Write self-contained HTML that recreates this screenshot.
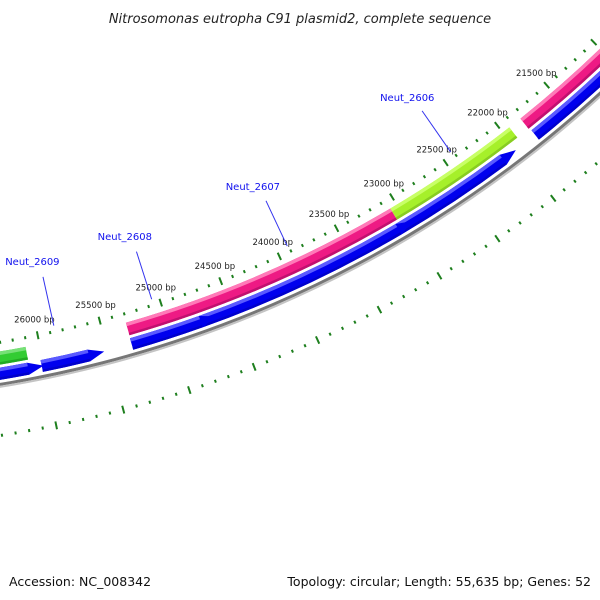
<!DOCTYPE html>
<html><head><meta charset="utf-8"><style>
html,body{margin:0;padding:0;background:#fff}
svg{display:block}
text{font-family:"DejaVu Sans","Liberation Sans",sans-serif}
</style></head><body>
<svg id="map" width="600" height="600" viewBox="0 0 600 600" xmlns="http://www.w3.org/2000/svg">
<rect width="600" height="600" fill="#fff"/>
<text x="300" y="23" text-anchor="middle" font-size="13" font-style="italic" fill="#222">Nitrosomonas eutropha C91 plasmid2, complete sequence</text>
<g id="rings"></g>
<g id="features"></g>
<g id="labels"></g>
<text x="9" y="586" font-size="12.5" fill="#111">Accession: NC_008342</text>
<text x="591" y="586" text-anchor="end" font-size="12.5" fill="#111">Topology: circular; Length: 55,635 bp; Genes: 52</text>
</svg>
<script>
const genomeLength = 55635;
const tickLabels = [21500, 22000, 22500, 23000, 23500, 24000, 24500, 25000, 25500, 26000];
const fwdStarts = [19000, 21825, 23057, 23057, 25307];
const fwdEnds = [21825-1, 19000, 25307, 21935, 26600];
const fwdColors = ['pink','pink','pink','lime','green'];
const featStart = [19000, 21825, 23057, 24200, 26111];
const featEnd   = [21935-110, 24200-1, 25307, 24200, 28000];
const pinkStarts = [19000, 23057];
const pinkEnds = [21825, 25307];
const limeStarts = [21935];
const limeEnds = [23057];
const greenStarts = [26111];
const greenEnds = [28000];
const blueStarts = [19000, 22123, 23084, 24754, 25647, 26122];
const blueEnds = [21815, 23084, 24754, 25310, 26017, 28000];
const geneNames = ['Neut_2606', 'Neut_2607', 'Neut_2608', 'Neut_2609'];
const geneLabelBp = [22420, 23910, 25060, 25860];

const CX = -189.3, CY = -769.7;
const NS = 'http://www.w3.org/2000/svg';
function ang(bp){ return (65.45 + (bp - 24000) * 360 / genomeLength) * Math.PI / 180; }
function pt(bp, r){ const a = ang(bp); return [CX + r * Math.cos(a), CY + r * Math.sin(a)]; }
function f(v){ return v.toFixed(2); }
function band(b1, b2, r1, r2, arrow){
  const o1 = pt(b1, r2), o2 = pt(b2, r2), i2 = pt(b2, r1), i1 = pt(b1, r1);
  let d = 'M' + f(o1[0]) + ',' + f(o1[1]) + ' A' + r2 + ',' + r2 + ' 0 0 1 ' + f(o2[0]) + ',' + f(o2[1]) +
    ' L' + f(i2[0]) + ',' + f(i2[1]) + ' A' + r1 + ',' + r1 + ' 0 0 0 ' + f(i1[0]) + ',' + f(i1[1]);
  if (arrow) { const t = pt(b1 - 120, (r1 + r2) / 2); d += ' L' + f(t[0]) + ',' + f(t[1]); }
  return d + ' Z';
}
function mk(parent, tag, attrs){ const e = document.createElementNS(NS, tag); for (const k in attrs) e.setAttribute(k, attrs[k]); parent.appendChild(e); return e; }

const rings = document.getElementById('rings');
const feats = document.getElementById('features');
const labs = document.getElementById('labels');

// backbone
let bb = mk(rings, 'path', {d: band(18000, 29000, 1168, 1171), fill: '#777'});


let bbs = mk(rings, 'path', {d: band(18000, 29000, 1171, 1173), fill: '#c4c4c4'});



// ticks
for (let bp = 18000; bp <= 29000; bp += 100) {
  const major = bp % 500 === 0;
  const rings2 = [1128, 1220];
  for (const R of rings2) {
    const h = major ? 4 : 1.5;
    const a = pt(bp, R - h), b = pt(bp, R + h);
    const l = mk(rings, 'line', {x1: f(a[0]), y1: f(a[1]), x2: f(b[0]), y2: f(b[1]), stroke: '#1e7f1e', 'stroke-width': 2});
    
    
  }
}
tickLabels.forEach(bp => {
  const p = pt(bp, 1112);
  const t = mk(labs, 'text', {x: f(p[0]), y: f(p[1] + 3), 'text-anchor': 'middle', 'font-size': 8.5, fill: '#222'});
  t.textContent = bp + ' bp';
  
  
});

function drawBand(starts, ends, r1, r2, cTop, cMain, cLow, name, arrow){
  starts.forEach((s, i) => {
    const e = ends[i];
    const g = mk(feats, 'g', {});
    
    
    mk(g, 'path', {d: band(s, e, r1, r2, arrow), fill: cMain});
    mk(g, 'path', {d: band(s, e, r2 - 2.5, r2), fill: cTop});
    mk(g, 'path', {d: band(s, e, r1, r1 + 3.5), fill: cLow});
  });
}
drawBand(pinkStarts, pinkEnds, 1137, 1150, '#c01070', '#ee1a84', '#ff7ab8', 'gene-forward-pink', false);
drawBand(limeStarts, limeEnds, 1137, 1150, '#88cc22', '#a6f02a', '#c8ff66', 'gene-forward-lime', false);
drawBand(greenStarts, greenEnds, 1137, 1150, '#22aa22', '#33cc33', '#77e077', 'gene-forward-green', false);
drawBand(blueStarts, blueEnds, 1153, 1165, '#0000cc', '#0000ee', '#5a5aff', 'gene-reverse-blue', true);

// gene labels
geneNames.forEach((n, i) => {
  const bp = geneLabelBp[i];
  const a = pt(bp, 1122), b = pt(bp, 1072), tp = pt(bp, 1060);
  const l = mk(labs, 'line', {x1: f(a[0]), y1: f(a[1]), x2: f(b[0]), y2: f(b[1]), stroke: '#3333ee', 'stroke-width': 1});
  
  
  const t = mk(labs, 'text', {x: f(tp[0] - 8), y: f(tp[1]), 'text-anchor': 'middle', 'font-size': 10, fill: '#1111ee'});
  t.textContent = n;
  
  
});
</script>
</body></html>
